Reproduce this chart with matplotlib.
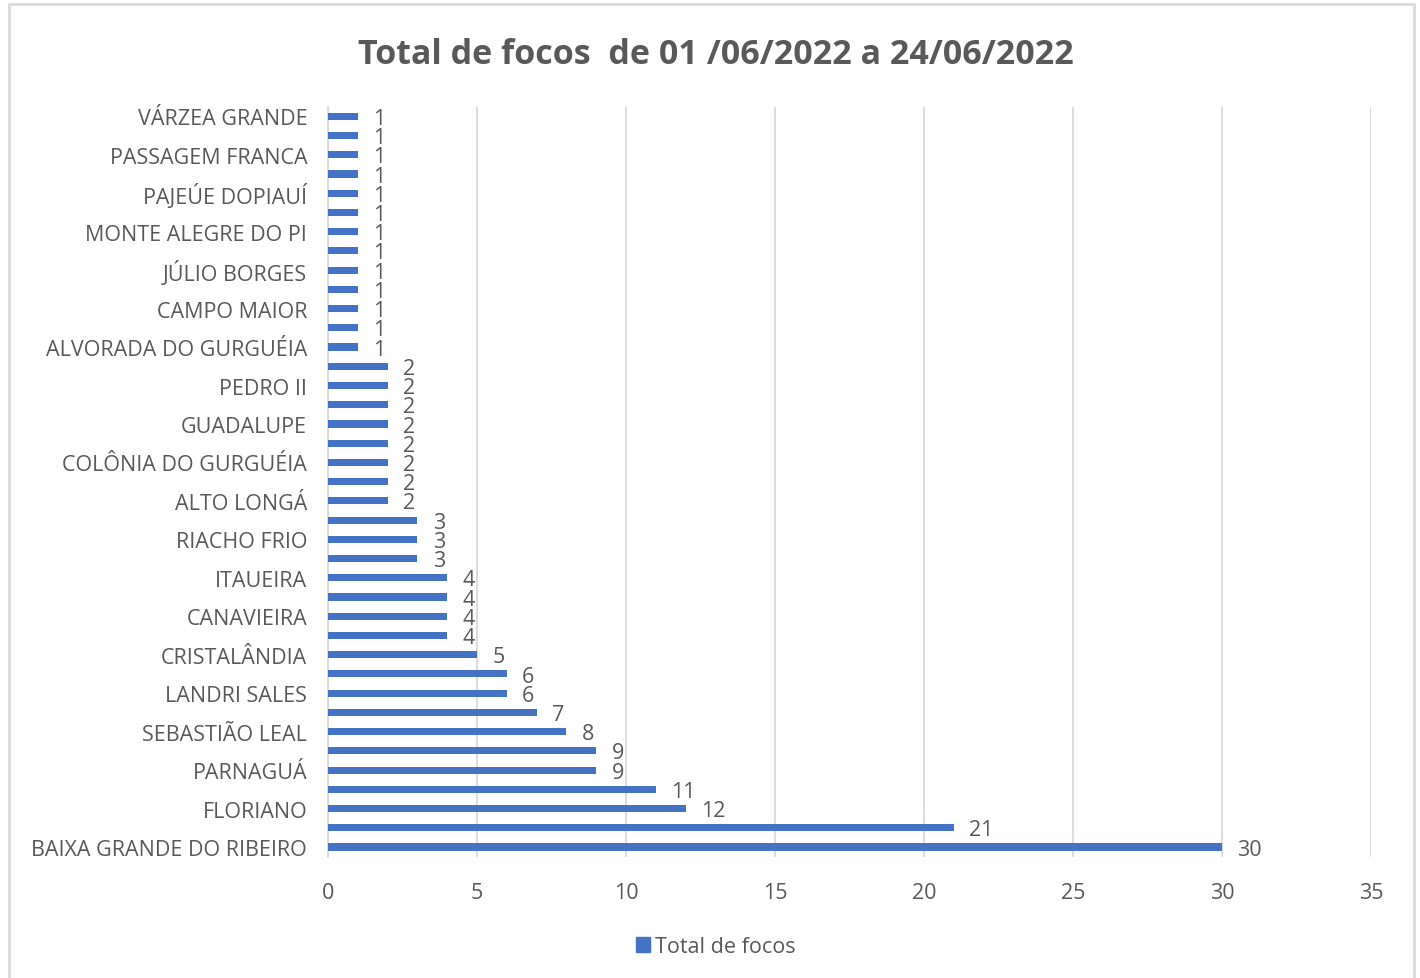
import matplotlib.pyplot as plt
from matplotlib.patches import Rectangle, Patch

# bar values, bottom to top (39 municipalities)
values = [30, 21, 12, 11, 9, 9, 8, 7, 6, 6, 5, 4, 4, 4, 4, 3, 3, 3,
          2, 2, 2, 2, 2, 2, 2, 2,
          1, 1, 1, 1, 1, 1, 1, 1, 1, 1, 1, 1, 1]

# only every other category name is printed on the axis
shown_labels = ["BAIXA GRANDE DO RIBEIRO", "FLORIANO", "PARNAGUÁ", "SEBASTIÃO LEAL",
                "LANDRI SALES", "CRISTALÂNDIA", "CANAVIEIRA", "ITAUEIRA", "RIACHO FRIO",
                "ALTO LONGÁ", "COLÔNIA DO GURGUÉIA", "GUADALUPE", "PEDRO II",
                "ALVORADA DO GURGUÉIA", "CAMPO MAIOR", "JÚLIO BORGES",
                "MONTE ALEGRE DO PI", "PAJEÚE DOPIAUÍ", "PASSAGEM FRANCA", "VÁRZEA GRANDE"]

x_ticks = [0, 5, 10, 15, 20, 25, 30, 35]

title = "Total de focos  de 01 /06/2022 a 24/06/2022"
series_name = "Total de focos"

BLUE = "#4472C4"
TXT = "#595959"
GRID = "#D9D9D9"
FS = 15.5

plt.rcParams["font.family"] = ["Open Sans", "DejaVu Sans"]

fig = plt.figure(figsize=(14.2, 9.79), dpi=100)
ax = fig.add_axes([0.231, 0.124, 0.7345, 0.766])

pos = list(range(len(values)))
ax.barh(pos, values, height=0.37, color=BLUE, zorder=3)

for p, v in zip(pos, values):
    ax.annotate(str(v), (v, p), xytext=(11, -1.5), textcoords="offset points",
                ha="left", va="center", fontsize=FS, color=TXT)

ax.set_xlim(0, 35)
ax.set_ylim(-0.5, len(values) - 0.5)
ax.set_xticks(x_ticks)
ax.set_xticklabels([str(t) for t in x_ticks])
ax.set_yticks(pos[::2])
ax.set_yticklabels(shown_labels)
ax.tick_params(axis="both", length=0, colors=TXT, labelsize=FS)
ax.tick_params(axis="x", pad=18)
ax.tick_params(axis="y", pad=15)

ax.grid(axis="x", color=GRID, linewidth=1.3, zorder=0)
for s in ["top", "right", "bottom"]:
    ax.spines[s].set_visible(False)
ax.spines["left"].set_color(GRID)
ax.spines["left"].set_linewidth(1.3)

fig.text(0.504, 0.944, title, ha="center", va="center", fontsize=24.5,
         fontweight="bold", color=TXT)

leg = fig.legend(handles=[Patch(color=BLUE, label=series_name)], loc="center",
                 bbox_to_anchor=(0.504, 0.032), frameon=False, fontsize=FS,
                 handlelength=0.65, handleheight=0.65, handletextpad=0.25)
for t in leg.get_texts():
    t.set_color(TXT)

# outer chart frame
fig.patches.append(Rectangle((0.0065, -0.01), 0.989, 1.005, transform=fig.transFigure,
                             fill=False, edgecolor=GRID, linewidth=2))

fig.savefig("out.png", dpi=100)
